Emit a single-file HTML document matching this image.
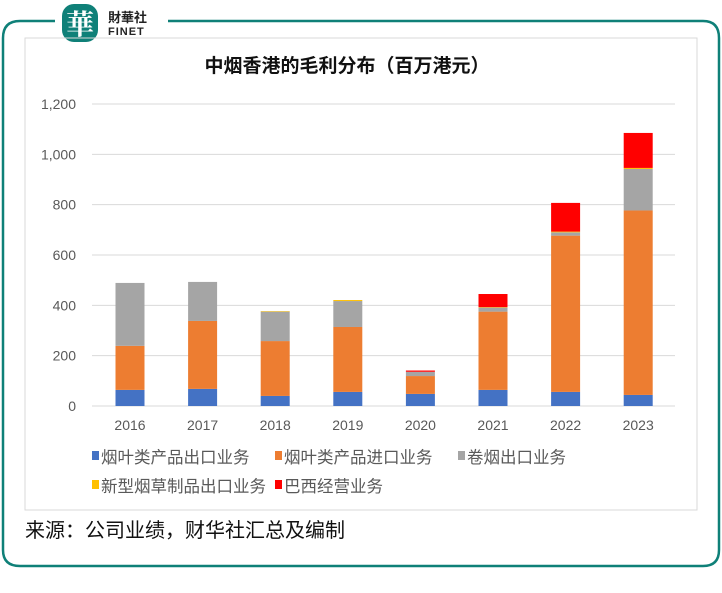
<!DOCTYPE html>
<html><head><meta charset="utf-8"><style>
body{margin:0;background:#fff;width:722px;height:588px;overflow:hidden;font-family:"Liberation Sans","Noto Sans CJK SC",sans-serif;}
</style></head><body>
<svg width="722" height="588" xmlns="http://www.w3.org/2000/svg">
<path d="M55 21 H20 Q3 21 3 38 V550 Q3 566 20 566 H703 Q719 566 719 550 V38 Q719 21 703 21 H168" fill="none" stroke="#0f8078" stroke-width="2.5"/>
<g>
<rect x="62" y="4" width="36" height="38" rx="12" fill="#0f8078"/>
<text x="80" y="34" font-size="28" fill="#fff" text-anchor="middle" font-family="'Noto Serif CJK SC',serif" font-weight="bold">華</text>
<text x="108" y="22" font-size="13" font-weight="bold" fill="#222">財華社</text>
<text x="108" y="35" font-size="11" font-weight="bold" fill="#222" letter-spacing="1">FINET</text>
</g>
<rect x="25" y="38" width="672" height="472" fill="none" stroke="#d9d9d9"/>
<text x="347" y="72" font-size="19" font-weight="bold" text-anchor="middle" fill="#111">中烟香港的毛利分布（百万港元）</text>
<g id="grid"></g><g id="bars"></g><g id="legend"></g>
<text x="25" y="537" font-size="20" fill="#111">来源：公司业绩，财华社汇总及编制</text>
</svg>
<script>
const categories=["2016","2017","2018","2019","2020","2021","2022","2023"];
const seriesNames=["烟叶类产品出口业务","烟叶类产品进口业务","卷烟出口业务","新型烟草制品出口业务","巴西经营业务"];
const leafExport=[64,68,40,56,48,64,56,44];
const leafImport=[175,270,218,258,71,311,621,733];
const cigExport=[250,155,117,103,17,16,13,165];
const newTobacco=[0,0,2,4,0,2,3,4];
const brazil=[0,0,0,0,5,52,114,139];
const yTicks=[0,200,400,600,800,1000,1200];
const yTickLabels=["0","200","400","600","800","1,000","1,200"];
const colors=["#4472c4","#ed7d31","#a5a5a5","#ffc000","#ff0000"];
const NS="http://www.w3.org/2000/svg";
const y=v=>406-v*(302/1200);
const x=i=>130+i*72.6;
function mk(t,a,p){const e=document.createElementNS(NS,t);for(const k in a)e.setAttribute(k,a[k]);p.appendChild(e);return e;}
const grid=document.getElementById('grid');
yTicks.forEach((t,i)=>{
 const l=mk('line',{x1:92,x2:675,y1:y(t),y2:y(t),stroke:'#d9d9d9'},grid);
 
 
 const tx=mk('text',{x:76,y:y(t)+5,'font-size':14,'text-anchor':'end',fill:'#595959'},grid);
 tx.textContent=yTickLabels[i];
 
 
});
const bars=document.getElementById('bars');
const series=[leafExport,leafImport,cigExport,newTobacco,brazil];
categories.forEach((c,i)=>{
 let acc=0;
 series.forEach((s,j)=>{
  const v=s[i]; if(v<=0)return;
  const r=mk('rect',{x:x(i)-14.5,y:y(acc+v),width:29,height:y(acc)-y(acc+v),fill:colors[j]},bars);
  
  
  acc+=v;
 });
 const t=mk('text',{x:x(i),y:430,'font-size':14,'text-anchor':'middle',fill:'#595959'},bars);
 t.textContent=c;
 
 
});
const lg=document.getElementById('legend');
const lpos=[[92,458],[275,458],[458,458],[92,487],[275,487]];
seriesNames.forEach((n,j)=>{
 const g=mk('g',{},lg);
 
 
 mk('rect',{x:lpos[j][0],y:lpos[j][1]-7,width:7,height:9,fill:colors[j]},g);
 const t=mk('text',{x:lpos[j][0]+9,y:lpos[j][1]+5,'font-size':16.5,fill:'#595959'},g);
 t.textContent=n;
});
</script>
</body></html>
